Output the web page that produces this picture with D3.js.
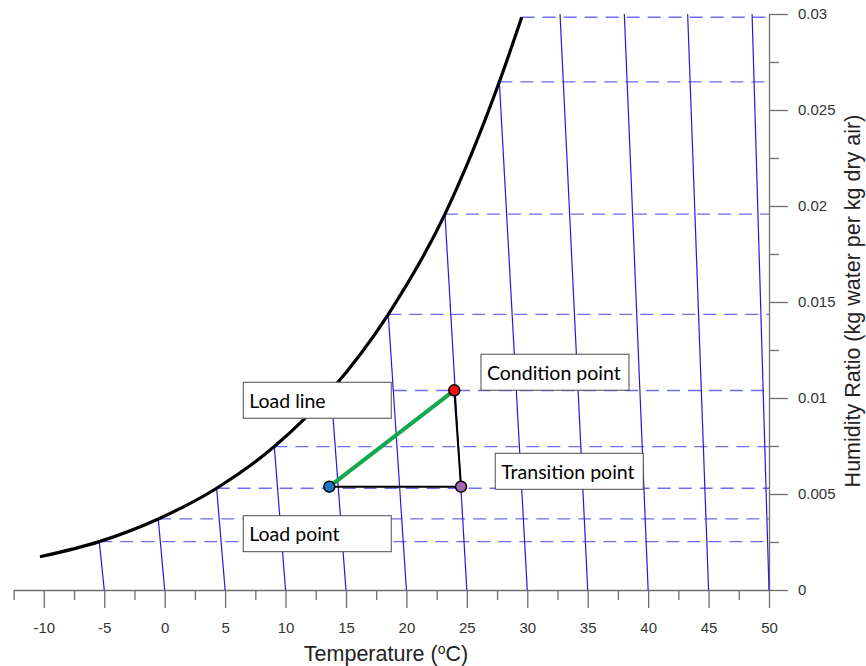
<!DOCTYPE html>
<html>
<head>
<meta charset="utf-8">
<script src="https://cdn.jsdelivr.net/npm/d3@7"></script>
<style>
  html, body { margin: 0; padding: 0; background: #fff; }
  #svg-container { width: 866px; height: 666px; }
  .tick text { font-family: "Liberation Sans", Arial, sans-serif; font-size: 15px; fill: #333; }
  .title { font-family: "Liberation Sans", Arial, sans-serif; font-size: 21.5px; fill: #222; }
  .note { font-family: Lato, "Open Sans", sans-serif; font-size: 19.5px; fill: #000; }
</style>
</head>
<body>
<div id="svg-container"></div>
<script>
////////////////////////////////////////////////////////////////////
////////////////////////////  Data  ////////////////////////////////

// saturation curve (temperature, humidity ratio)
const satT = [-10.32, -5.41, -0.53, 4.3, 9.07, 13.76, 18.5, 23.19, 27.69, 29.54];
const satW = [0.00173, 0.00252, 0.0037, 0.0053, 0.00747, 0.01039, 0.01436, 0.01958, 0.02647, 0.02983];

// dry bulb lines: bottom temperature, top end
const isoT = [-5, 0, 5, 10, 15, 20, 25, 30, 35, 40, 45, 50];
const isoTopT = [-5.41, -0.53, 4.3, 9.07, 13.76, 18.5, 23.19, 27.69, 32.71, 38.03, 43.27, 48.6];
const isoTopW = [0.00252, 0.0037, 0.0053, 0.00747, 0.01039, 0.01436, 0.01958, 0.02647, 0.03, 0.03, 0.03, 0.03];

// process points
const pointNames = ["Load point", "Transition point", "Condition point"];
const pointT = [13.62, 24.52, 23.96];
const pointW = [0.00538, 0.00538, 0.0104];

// labels
const noteLabels = ["Load line", "Condition point", "Transition point", "Load point"];

// ticks
const xTicks = [-10, -5, 0, 5, 10, 15, 20, 25, 30, 35, 40, 45, 50];
const xMinor = [-12.5, -7.5, -2.5, 2.5, 7.5, 12.5, 17.5, 22.5, 27.5, 32.5, 37.5, 42.5, 47.5];
const yTicks = [0, 0.005, 0.01, 0.015, 0.02, 0.025, 0.03];
const yMinor = [0.0025, 0.0075, 0.0125, 0.0175, 0.0225, 0.0275];

////////////////////////////////////////////////////////////////////
////////////////////////////  Init  ///////////////////////////////

const width = 866;
const height = 666;

const svg = d3.select("#svg-container").append("svg")
  .attr("width", width)
  .attr("height", height);

const x = d3.scaleLinear().domain([-12.5, 50]).range([13.6, 769]);
const y = d3.scaleLinear().domain([0, 0.03]).range([590, 14]);

// colors
const isoColor = "#3312dd";
const dashColor = "#6c6cf0";
const axisColor = "#6e6e6e";

// note boxes (left temperature, top humidity ratio)
const noteAnchor = [[6.5, 0.01082], [26.17, 0.01228], [27.35, 0.00712], [6.5, 0.00387]];
const boxW = 148, boxH = 36;

////////////////////////////////////////////////////////////////////
////////////////////////////  Axes  ////////////////////////////////

const xAxis = svg.append("g")
  .attr("transform", `translate(0, ${y(0)})`)
  .call(d3.axisBottom(x).tickValues(xTicks).tickSize(18).tickSizeOuter(0).tickFormat((d) => String(d)));

svg.append("g")
  .attr("transform", `translate(0, ${y(0)})`)
  .call(d3.axisBottom(x).tickValues(xMinor).tickSize(10).tickSizeOuter(0).tickFormat(""))
  .select(".domain").remove();

xAxis.selectAll(".tick text").attr("y", 43).attr("dy", 0);

const yAxis = svg.append("g")
  .attr("transform", `translate(${x(50)}, 0)`)
  .call(d3.axisRight(y).tickValues(yTicks).tickSize(19).tickPadding(10).tickSizeOuter(0).tickFormat((d) => String(d)));

svg.append("g")
  .attr("transform", `translate(${x(50)}, 0)`)
  .call(d3.axisRight(y).tickValues(yMinor).tickSize(10).tickSizeOuter(0).tickFormat(""))
  .select(".domain").remove();

svg.selectAll(".domain, .tick line").attr("stroke", axisColor).attr("stroke-width", 1.3);

// axis titles
const xTitle = svg.append("text")
  .attr("class", "title")
  .attr("x", 386)
  .attr("y", 661)
  .attr("text-anchor", "middle");
xTitle.append("tspan").text("Temperature (");
xTitle.append("tspan").attr("dy", -7).style("font-size", "14px").text("o");
xTitle.append("tspan").attr("dy", 7).text("C)");

svg.append("text")
  .attr("class", "title")
  .attr("transform", `translate(860, 301) rotate(-90)`)
  .attr("text-anchor", "middle")
  .text("Humidity Ratio (kg water per kg dry air)");

////////////////////////////////////////////////////////////////////
////////////////////////////  Chart  ///////////////////////////////

// dashed lines from saturation to the right axis
svg.append("g")
  .selectAll("line")
  .data(satT.slice(1))
  .join("line")
  .attr("x1", (d) => x(d))
  .attr("x2", x(50))
  .attr("y1", (d, i) => y(satW[i + 1]))
  .attr("y2", (d, i) => y(satW[i + 1]))
  .attr("stroke", dashColor)
  .attr("stroke-width", 1.3)
  .attr("stroke-dasharray", "13,8");

// dry bulb lines
svg.append("g")
  .selectAll("line")
  .data(isoT)
  .join("line")
  .attr("x1", (d) => x(d))
  .attr("y1", y(0))
  .attr("x2", (d, i) => x(isoTopT[i]))
  .attr("y2", (d, i) => y(isoTopW[i]))
  .attr("stroke", isoColor)
  .attr("stroke-width", 1.2);

// saturation curve
const satLine = d3.line()
  .x((d) => x(satT[d]))
  .y((d) => y(satW[d]))
  .curve(d3.curveMonotoneX);

svg.append("path")
  .datum(d3.range(satT.length))
  .attr("d", satLine)
  .attr("fill", "none")
  .attr("stroke", "#000")
  .attr("stroke-width", 3.2);

// process lines
const px = (i) => x(pointT[i]);
const py = (i) => y(pointW[i]);

svg.append("path")
  .attr("d", `M${px(0)},${py(0)}L${px(1)},${py(1)}L${px(2)},${py(2)}`)
  .attr("fill", "none")
  .attr("stroke", "#000")
  .attr("stroke-width", 2);

svg.append("line")
  .attr("x1", px(0)).attr("y1", py(0))
  .attr("x2", px(2)).attr("y2", py(2))
  .attr("stroke", "#12a84c")
  .attr("stroke-width", 4);

svg.append("g")
  .selectAll("circle")
  .data(pointNames)
  .join("circle")
  .attr("cx", (d, i) => px(i))
  .attr("cy", (d, i) => py(i))
  .attr("r", 5.5)
  .attr("fill", (d, i) => ["#1f74c6", "#a466b4", "#ee1111"][i])
  .attr("stroke", "#000")
  .attr("stroke-width", 1.5);

// note boxes
const notes = svg.append("g")
  .selectAll("g")
  .data(noteLabels)
  .join("g")
  .attr("transform", (d, i) => `translate(${x(noteAnchor[i][0])}, ${y(noteAnchor[i][1])})`);

notes.append("rect")
  .attr("width", boxW)
  .attr("height", boxH)
  .attr("fill", "#fff")
  .attr("stroke", "#4a4a4a")
  .attr("stroke-width", 1);

notes.append("text")
  .attr("class", "note")
  .attr("x", 6)
  .attr("y", 25.5)
  .text((d) => d);
</script>
</body>
</html>
